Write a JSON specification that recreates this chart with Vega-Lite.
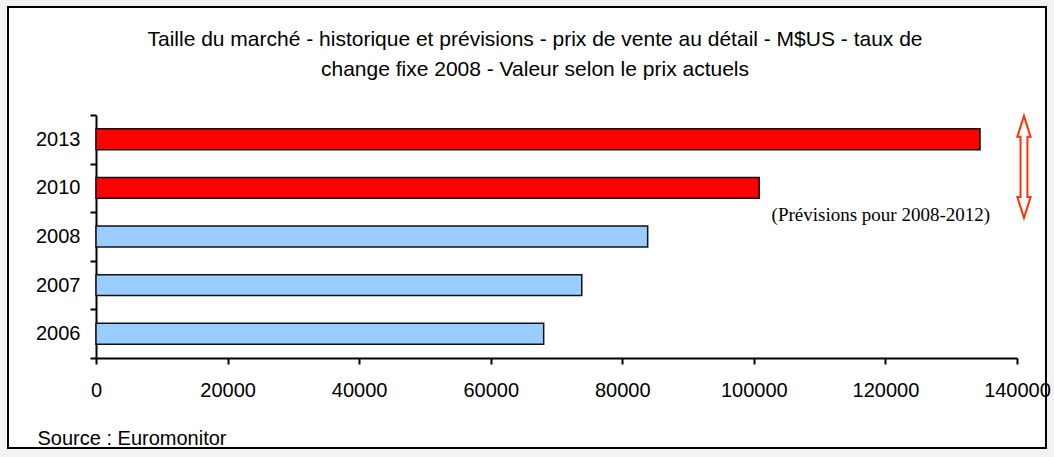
{
  "$schema": "https://vega.github.io/schema/vega-lite/v6.json",
  "autosize": "none",
  "padding": {"left": 8, "top": 7, "right": 8, "bottom": 9},
  "width": 1038,
  "height": 441,
  "background": "#f2f2f2",
  "title": {
    "text": ["Taille du marché - historique et prévisions - prix de vente au détail - M$US - taux de", "change fixe 2008 - Valeur selon le prix actuels"],
    "font": "Liberation Sans",
    "fontSize": 21,
    "fontWeight": "normal",
    "color": "#000000",
    "lineHeight": 30,
    "anchor": "middle",
    "frame": "group",
    "dx": 8,
    "offset": -83
  },
  "config": {
    "view": {"stroke": "#000000", "strokeWidth": 2, "fill": "#ffffff"},
    "axis": {
      "labelFont": "Liberation Sans",
      "labelFontSize": 20,
      "labelColor": "#000000",
      "domainColor": "#000000",
      "domainWidth": 2,
      "tickColor": "#000000",
      "tickWidth": 2,
      "tickSize": 6,
      "grid": false
    }
  },
  "datasets": {
    "bars": [
      {"year": "2013", "value": 134380, "type": "prévision"},
      {"year": "2010", "value": 100810, "type": "prévision"},
      {"year": "2008", "value": 83860, "type": "historique"},
      {"year": "2007", "value": 73840, "type": "historique"},
      {"year": "2006", "value": 68050, "type": "historique"}
    ],
    "note": [
      {"year": "2010", "value": 119300, "label": "(Prévisions pour 2008-2012)"}
    ],
    "arrow": [
      {"year": "2010", "value": 141060}
    ]
  },
  "layer": [
    {
      "data": {"name": "bars"},
      "mark": {"type": "bar", "stroke": "#111111", "strokeWidth": 1.5, "height": {"band": 0.43}},
      "encoding": {
        "y": {
          "field": "year",
          "type": "nominal",
          "sort": ["2013", "2010", "2008", "2007", "2006"],
          "scale": {"range": [108, 351], "paddingInner": 0, "paddingOuter": 0},
          "axis": {
            "title": null,
            "orient": "left",
            "offset": -88,
            "tickBand": "extent",
            "labelPadding": 10,
            "labelAlign": "right",
            "labelBaseline": "middle"
          }
        },
        "x": {
          "field": "value",
          "type": "quantitative",
          "scale": {"domain": [0, 140000], "range": [88, 1009], "nice": false, "zero": true},
          "axis": {
            "orient": "bottom",
            "offset": -90,
            "values": [0, 20000, 40000, 60000, 80000, 100000, 120000, 140000],
            "format": "d",
            "labelFlush": false,
            "labelOverlap": false,
            "labelPadding": 16,
            "title": "Source : Euromonitor",
            "titleFont": "Liberation Sans",
            "titleFontSize": 20,
            "titleFontWeight": "normal",
            "titleColor": "#000000",
            "titleAnchor": "start",
            "titleAlign": "left",
            "titleBaseline": "alphabetic",
            "titleX": 29,
            "titleY": 86
          }
        },
        "color": {
          "field": "type",
          "type": "nominal",
          "scale": {"domain": ["historique", "prévision"], "range": ["#99ccff", "#ff0000"]},
          "legend": null
        }
      }
    },
    {
      "data": {"name": "note"},
      "mark": {"type": "text", "font": "Liberation Serif", "fontSize": 19, "color": "#000000", "align": "center", "baseline": "middle", "dy": 27},
      "encoding": {
        "y": {"field": "year", "type": "nominal", "sort": ["2013", "2010", "2008", "2007", "2006"]},
        "x": {"field": "value", "type": "quantitative"},
        "text": {"field": "label"}
      }
    },
    {
      "data": {"name": "arrow"},
      "mark": {
        "type": "point",
        "shape": "M0,-1L0.13,-0.59L0.068,-0.59L0.068,0.59L0.13,0.59L0,1L-0.13,0.59L-0.068,0.59L-0.068,-0.59L-0.13,-0.59Z",
        "size": 10400,
        "filled": true,
        "fill": "#ffffff",
        "stroke": "#ff3300",
        "strokeWidth": 2,
        "opacity": 1,
        "yOffset": -21
      },
      "encoding": {
        "y": {"field": "year", "type": "nominal", "sort": ["2013", "2010", "2008", "2007", "2006"]},
        "x": {"field": "value", "type": "quantitative"}
      }
    }
  ]
}
